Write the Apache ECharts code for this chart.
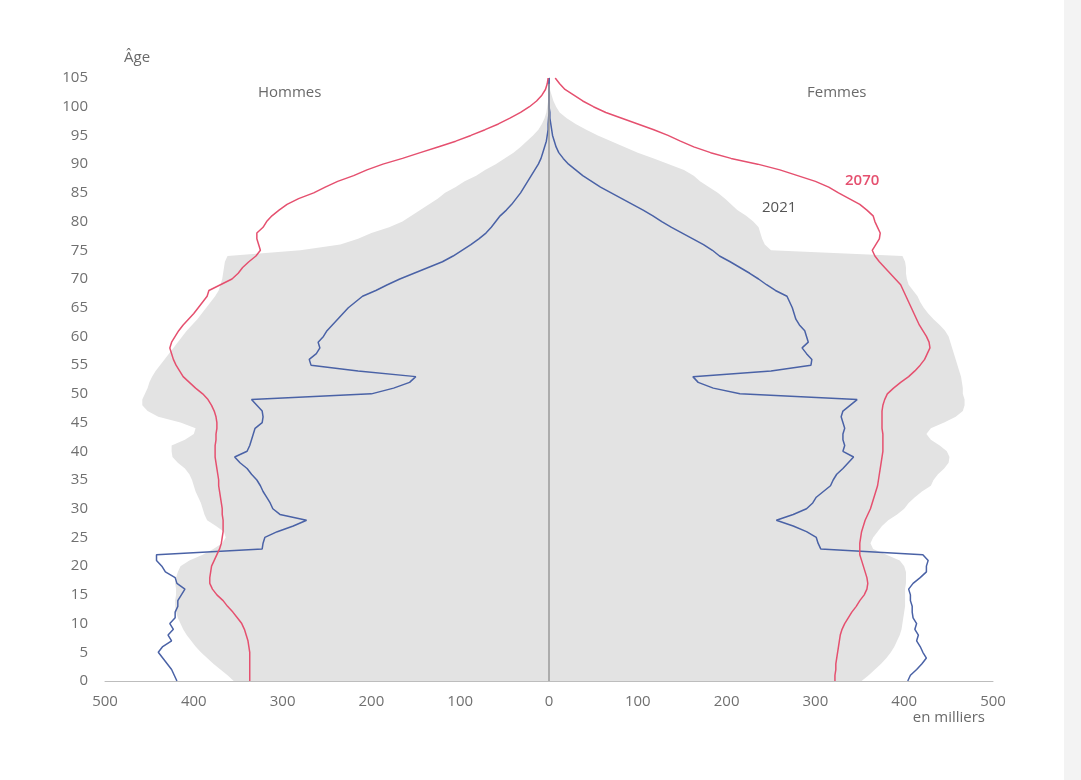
<!DOCTYPE html>
<html>
<head>
<meta charset="utf-8">
<script src="https://cdn.jsdelivr.net/npm/echarts@6/dist/echarts.min.js"></script>
<style>
  html, body { margin: 0; padding: 0; background: #fff; }
  #chart { width: 1081px; height: 780px; }
</style>
</head>
<body>
<div id="chart"></div>
<script>
// ages 0..105, values in thousands
var ages = [];
for (var a = 0; a <= 105; a++) ages.push(String(a));

var hommes1970 = [419,422,425,430,435,440,435,425,429,423,427,421,421,418,418,414,410,419,421,432,
  436,442,442,323,322,320,306,288,273,303,311,314,318,322,325,329,335,340,348,354,
  340,337,335,333,331,323,322,323,329,335,200,175,157,150,215,268,270,262,258,260,
  254,250,244,238,232,226,218,210,195,182,168,152,136,120,108,98,88,79,71,65,
  60,55,48,42,37,32,28,24,20,16,12,9,7,5,3,2,1,1,0.5,0,
  0,0,0,0,0,0];
var femmes1970 = [404,407,414,420,425,421,418,414,416,412,414,410,409,409,407,407,405,410,418,425,
  425,427,421,306,303,301,290,275,256,275,290,297,301,309,317,320,324,331,337,343,
  331,333,331,331,333,331,329,331,339,347,215,185,168,162,250,295,296,290,285,292,
  290,288,282,278,276,274,271,268,255,245,236,226,215,204,192,184,174,162,150,138,
  127,117,106,94,82,70,58,48,38,30,22,16,11,8,6,4,3,2,1,1,
  0,0,0,0,0,0];
var hommes2021 = [355,362,370,378,385,392,398,403,408,412,415,418,420,421,421,420,420,421,420,418,
  415,405,390,378,368,364,366,375,385,388,390,392,395,398,400,402,405,410,418,424,
  425,425,410,400,398,415,440,452,458,458,455,452,450,447,443,438,433,428,423,418,
  413,408,402,396,391,386,381,376,372,370,368,367,366,365,362,280,235,215,200,180,
  165,155,145,135,125,117,105,95,82,72,60,50,40,32,25,18,12,8,5,3,
  2,1,0.5,0,0,0];
var femmes2021 = [352,360,367,374,380,385,389,392,395,397,398,399,400,401,401,401,401,402,402,402,
  400,395,380,365,362,365,370,375,382,392,400,405,412,420,430,433,438,445,450,451,
  448,440,430,425,430,445,458,466,468,468,466,466,465,464,462,460,458,456,454,452,
  450,446,440,433,427,422,418,415,410,405,403,402,402,401,398,250,243,240,238,236,
  230,222,212,205,198,190,180,170,163,152,135,118,100,85,70,55,42,30,20,12,
  8,5,3,1,0.5,0];
var hommes2070 = [337,337,337,337,337,337,338,339,341,343,346,351,356,362,367,374,379,382,382,381,
  380,377,374,371,369,368,367,367,367,368,368,369,370,371,372,372,373,374,375,376,
  376,376,375,375,374,374,375,377,380,384,390,398,405,412,416,420,423,425,427,425,
  421,417,412,406,400,395,390,385,383,370,357,350,345,338,330,325,327,329,329,322,
  318,312,304,295,282,265,252,238,220,205,187,165,145,125,105,88,72,57,44,32,
  22,14,8,4,2,1];
var femmes2070 = [322,322,323,323,324,325,326,327,328,330,333,337,341,346,350,355,358,359,358,356,
  354,352,350,350,350,351,352,354,356,359,362,364,366,368,370,371,372,373,374,375,
  376,376,376,376,375,375,375,375,376,378,381,388,396,405,412,418,423,426,429,428,
  425,421,417,414,411,408,405,402,399,396,390,384,378,372,367,364,368,372,373,370,
  367,365,358,350,338,326,315,300,280,260,235,205,182,163,148,134,118,100,82,64,
  50,38,28,18,12,7];

var xTicks = [-500,-400,-300,-200,-100,0,100,200,300,400,500];

function neg(arr) { return arr.map(function (v) { return -v; }); }

var RED = '#e5506f', BLUE = '#4a62a6', GREY = '#e3e3e3';
var FONT = '"Open Sans", "Noto Sans", sans-serif';

var chart = echarts.init(document.getElementById('chart'));
var option = {
  backgroundColor: '#fff',
  animation: false,
  grid: { left: 105, right: 88, top: 78, bottom: 99, containLabel: false },
  xAxis: {
    type: 'value',
    min: xTicks[0], max: xTicks[xTicks.length - 1], interval: 100,
    axisLine: { show: true, lineStyle: { color: '#bdbdbd', width: 1 } },
    axisTick: { show: false },
    splitLine: { show: false },
    axisLabel: {
      color: '#707070', fontSize: 15, fontFamily: FONT, margin: 13,
      formatter: function (v) { return Math.abs(v); }
    }
  },
  yAxis: {
    type: 'category',
    data: ages,
    boundaryGap: false,
    axisLine: { show: true, lineStyle: { color: '#bdbdbd', width: 1 } },
    axisTick: { show: false },
    splitLine: { show: false },
    axisLabel: { color: '#707070', fontSize: 15, fontFamily: FONT, margin: 17, interval: 4 }
  },
  series: [
    { name: 'Hommes 2021', type: 'line', data: neg(hommes2021), symbol: 'none',
      lineStyle: { width: 0 }, areaStyle: { color: GREY, opacity: 1 }, z: 1 },
    { name: 'Femmes 2021', type: 'line', data: femmes2021, symbol: 'none',
      lineStyle: { width: 0 }, areaStyle: { color: GREY, opacity: 1 }, z: 1,
      markLine: {
        silent: true, symbol: 'none', label: { show: false },
        lineStyle: { color: '#9a9a9a', width: 1.5, type: 'solid' },
        data: [[{ coord: [0, '0'] }, { coord: [0, '104'] }]]
      } },
    { name: 'Hommes 1970', type: 'line', data: neg(hommes1970), symbol: 'none',
      lineStyle: { color: BLUE, width: 1.5 }, z: 3 },
    { name: 'Femmes 1970', type: 'line', data: femmes1970, symbol: 'none',
      lineStyle: { color: BLUE, width: 1.5 }, z: 3 },
    { name: 'Hommes 2070', type: 'line', data: neg(hommes2070), symbol: 'none',
      lineStyle: { color: RED, width: 1.5 }, z: 4 },
    { name: 'Femmes 2070', type: 'line', data: femmes2070, symbol: 'none',
      lineStyle: { color: RED, width: 1.5 }, z: 4 }
  ],
  graphic: [
    { type: 'rect', right: 0, top: 0, shape: { width: 17, height: 780 }, style: { fill: '#f3f3f3' }, silent: true },
    { type: 'text', left: 124, top: 50, style: { text: 'Âge', fill: '#6a6a6a', font: '15px ' + FONT } },
    { type: 'text', left: 258, top: 85, style: { text: 'Hommes', fill: '#6a6a6a', font: '15px ' + FONT } },
    { type: 'text', left: 807, top: 85, style: { text: 'Femmes', fill: '#6a6a6a', font: '15px ' + FONT } },
    { type: 'text', left: 845, top: 173, style: { text: '2070', fill: RED, font: '600 15px ' + FONT } },
    { type: 'text', left: 762, top: 200, style: { text: '2021', fill: '#555', font: '15px ' + FONT } },
    { type: 'text', left: 727, top: 236, style: { text: '1970', fill: BLUE, font: '600 15px ' + FONT } },
    { type: 'text', right: 96, top: 710, style: { text: 'en milliers', fill: '#6a6a6a', font: '15px ' + FONT } }
  ]
};
chart.setOption(option);
</script>
</body>
</html>
